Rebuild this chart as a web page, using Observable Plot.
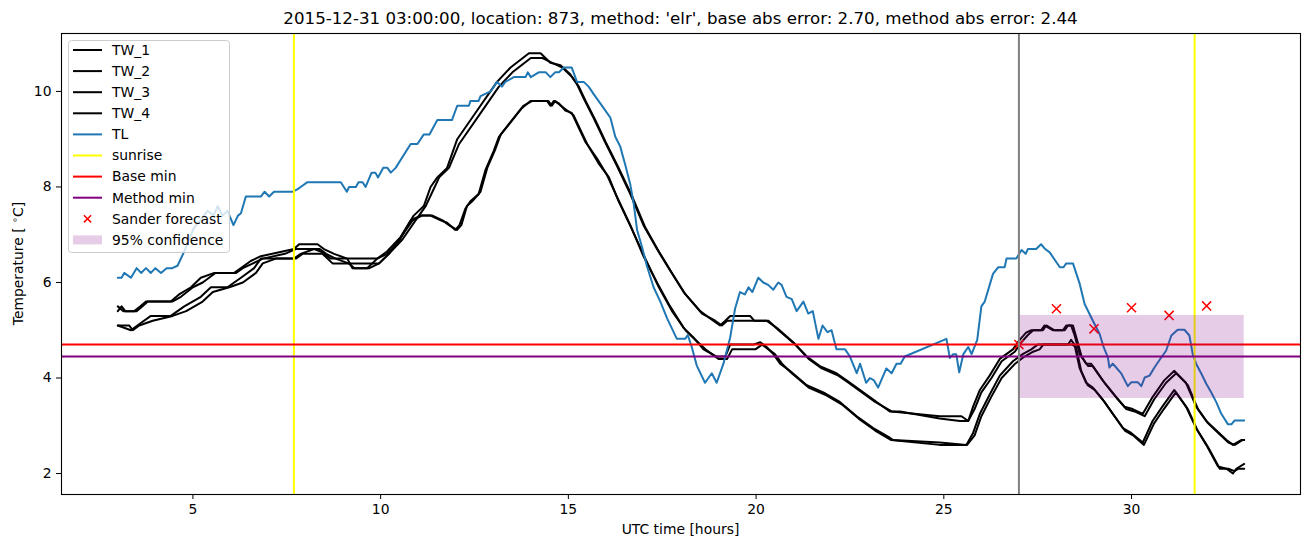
<!DOCTYPE html>
<html><head><meta charset="utf-8">
<script src="https://cdn.jsdelivr.net/npm/d3@7"></script>
<script src="https://cdn.jsdelivr.net/npm/@observablehq/plot@0.6"></script>
<style>
body{margin:0;background:#fff;font-family:"DejaVu Sans",sans-serif;}
#title{height:26px;width:1310px;position:relative;}
#title span{position:absolute;left:680.5px;top:18px;transform:translate(-50%,-50%);font-size:16.67px;white-space:nowrap;color:#000;}
#chart svg{display:block;}
</style></head><body>
<div id="title"><span>2015-12-31 03:00:00, location: 873, method: 'elr', base abs error: 2.70, method abs error: 2.44</span></div>
<div id="chart"></div>
<script>
// ---- data (hours since 2015-12-30 00:00 UTC, temperature °C) ----
const tl = [[3.00,6.1],[3.10,6.1],[3.17,6.2],[3.35,6.1],[3.50,6.3],[3.62,6.2],[3.75,6.3],[3.88,6.2],[4.00,6.3],[4.15,6.2],[4.30,6.3],[4.45,6.3],[4.59,6.35],[4.77,6.65],[5.03,7.15],[5.20,7.3],[5.39,7.5],[5.55,7.4],[5.66,7.6],[5.79,7.4],[5.92,7.5],[6.08,7.2],[6.20,7.4],[6.28,7.45],[6.41,7.8],[6.81,7.8],[6.91,7.9],[7.03,7.8],[7.16,7.9],[7.66,7.9],[7.78,7.95],[7.87,8.0],[8.05,8.1],[8.94,8.1],[9.10,7.9],[9.16,8.0],[9.34,8.0],[9.41,8.1],[9.52,8.1],[9.60,8.0],[9.76,8.3],[9.86,8.3],[9.93,8.2],[10.07,8.4],[10.18,8.4],[10.27,8.3],[10.40,8.4],[10.80,8.9],[10.98,8.9],[11.15,9.1],[11.30,9.1],[11.51,9.4],[11.90,9.4],[12.04,9.7],[12.35,9.7],[12.39,9.8],[12.61,9.8],[12.66,9.9],[12.93,10.0],[13.10,10.2],[13.23,10.1],[13.32,10.2],[13.55,10.3],[13.86,10.3],[13.92,10.4],[14.00,10.3],[14.21,10.4],[14.40,10.4],[14.52,10.3],[14.65,10.4],[14.75,10.4],[14.88,10.5],[15.09,10.5],[15.23,10.2],[15.41,10.2],[15.54,10.1],[15.67,9.95],[15.76,9.85],[15.94,9.65],[16.12,9.45],[16.25,9.05],[16.38,8.85],[16.52,8.45],[16.65,8.05],[16.74,7.65],[16.83,7.1],[16.96,6.75],[17.09,6.35],[17.27,5.9],[17.45,5.6],[17.63,5.25],[17.89,4.82],[18.11,4.82],[18.18,4.9],[18.29,4.64],[18.42,4.26],[18.64,3.9],[18.82,4.1],[18.95,3.9],[19.13,4.3],[19.31,4.85],[19.44,5.45],[19.57,5.8],[19.70,5.75],[19.80,5.9],[19.90,5.8],[20.06,6.1],[20.19,6.0],[20.32,5.95],[20.46,5.85],[20.59,6.0],[20.68,5.95],[20.81,5.7],[20.95,5.65],[21.08,5.4],[21.26,5.6],[21.39,5.35],[21.51,5.4],[21.66,4.82],[21.77,5.1],[21.90,4.96],[22.01,5.0],[22.14,4.6],[22.37,4.6],[22.50,4.45],[22.68,4.1],[22.77,4.3],[22.93,3.9],[23.03,4.0],[23.14,3.95],[23.25,3.8],[23.47,4.2],[23.61,4.1],[23.74,4.3],[23.85,4.3],[23.96,4.45],[25.07,4.82],[25.16,4.42],[25.25,4.5],[25.33,4.5],[25.41,4.12],[25.52,4.5],[25.65,4.65],[25.74,4.5],[25.89,4.8],[26.00,5.5],[26.09,5.6],[26.31,6.18],[26.45,6.32],[26.62,6.32],[26.67,6.5],[26.93,6.5],[27.07,6.68],[27.18,6.6],[27.24,6.7],[27.46,6.7],[27.59,6.8],[27.70,6.7],[27.82,6.63],[28.09,6.32],[28.19,6.32],[28.26,6.4],[28.44,6.4],[28.62,5.97],[28.75,5.55],[28.97,5.2],[29.15,4.92],[29.26,4.64],[29.37,4.43],[29.41,4.22],[29.50,4.3],[29.59,4.22],[29.73,4.09],[29.90,3.83],[29.99,3.91],[30.17,3.91],[30.26,3.83],[30.35,4.01],[30.48,4.05],[30.61,4.22],[30.79,4.43],[30.92,4.57],[31.06,4.89],[31.23,5.01],[31.41,5.01],[31.54,4.89],[31.63,4.5],[31.72,4.3],[31.86,4.09],[31.99,3.88],[32.12,3.7],[32.26,3.49],[32.39,3.25],[32.57,3.03],[32.66,3.03],[32.74,3.11],[33.00,3.11]];

const tw1 = [[3.0,5.5],[3.15,5.4],[3.44,5.4],[3.6,5.5],[3.75,5.6],[4.41,5.6],[4.63,5.75],[4.95,5.9],[5.21,6.1],[5.57,6.2],[6.10,6.2],[6.28,6.3],[6.54,6.45],[6.81,6.55],[7.39,6.65],[7.69,6.7],[7.83,6.8],[8.32,6.8],[8.49,6.7],[8.76,6.6],[9.11,6.5],[9.25,6.3],[9.64,6.3],[9.91,6.5],[10.17,6.6],[10.44,6.8],[10.80,7.3],[11.06,7.4],[11.33,7.4],[11.60,7.3],[11.77,7.25],[11.99,7.1],[12.10,7.2],[12.26,7.55],[12.39,7.7],[12.61,7.85],[12.79,8.35],[13.01,8.75],[13.15,9.05],[13.46,9.35],[13.76,9.65],[13.99,9.8],[14.43,9.8],[14.52,9.7],[14.61,9.8],[14.75,9.75],[14.92,9.6],[15.09,9.55],[15.27,9.25],[15.45,8.95],[15.76,8.6],[16.03,8.25],[16.29,7.8],[16.65,7.2],[17.00,6.55],[17.36,6.0],[17.71,5.5],[18.07,5.05],[18.33,4.85],[18.60,4.6],[18.95,4.45],[19.18,4.45],[19.31,4.7],[19.93,4.7],[20.11,4.75],[20.28,4.65],[20.46,4.5],[20.64,4.3],[20.90,4.15],[21.35,3.85],[21.79,3.7],[22.23,3.5],[22.68,3.2],[23.12,2.95],[23.56,2.75],[23.65,2.7],[24.89,2.65],[25.60,2.6],[25.78,2.85],[25.96,3.25],[26.22,3.65],[26.49,4.05],[26.84,4.35],[27.10,4.5],[27.33,4.6],[27.50,4.7],[28.31,4.7],[28.39,4.8],[28.48,4.7],[28.62,4.2],[28.79,3.9],[28.97,3.8],[29.23,3.55],[29.50,3.25],[29.77,2.95],[29.99,2.85],[30.30,2.65],[30.56,3.1],[30.82,3.4],[31.14,3.75],[31.45,3.4],[31.72,2.95],[31.99,2.6],[32.30,2.15],[32.53,2.1],[32.70,2.0],[32.79,2.1],[33.0,2.2]];

const tw2 = [[3.0,5.4],[3.1,5.5],[3.2,5.4],[3.5,5.4],[3.65,5.5],[3.8,5.6],[4.45,5.6],[4.68,5.7],[5.0,5.9],[5.26,6.0],[5.6,6.2],[6.15,6.2],[6.33,6.3],[6.6,6.4],[6.86,6.5],[7.45,6.6],[7.74,6.7],[7.9,6.7],[8.38,6.7],[8.55,6.6],[8.8,6.5],[9.15,6.4],[9.3,6.3],[9.7,6.3],[9.96,6.4],[10.22,6.6],[10.5,6.9],[10.85,7.3],[11.1,7.4],[11.38,7.4],[11.65,7.3],[11.82,7.2],[12.03,7.1],[12.15,7.2],[12.3,7.6],[12.44,7.7],[12.66,7.9],[12.84,8.4],[13.06,8.8],[13.2,9.1],[13.5,9.4],[13.8,9.7],[14.04,9.8],[14.47,9.8],[14.56,9.7],[14.65,9.8],[14.8,9.7],[14.97,9.6],[15.14,9.5],[15.32,9.2],[15.5,8.9],[15.8,8.5],[16.08,8.2],[16.34,7.7],[16.7,7.1],[17.05,6.5],[17.41,5.9],[17.76,5.4],[18.12,5.0],[18.38,4.8],[18.65,4.6],[19.0,4.4],[19.23,4.4],[19.36,4.6],[19.98,4.6],[20.16,4.7],[20.33,4.6],[20.5,4.5],[20.69,4.3],[20.95,4.1],[21.4,3.8],[21.84,3.65],[22.28,3.45],[22.73,3.15],[23.17,2.9],[23.6,2.7],[24.89,2.6],[25.62,2.6],[25.82,2.8],[26.0,3.2],[26.26,3.6],[26.54,4.0],[26.9,4.3],[27.15,4.45],[27.38,4.55],[27.55,4.6],[27.65,4.7],[28.34,4.7],[28.42,4.7],[28.52,4.65],[28.66,4.15],[28.83,3.85],[29.02,3.75],[29.28,3.5],[29.55,3.2],[29.82,2.9],[30.04,2.8],[30.33,2.6],[30.6,3.05],[30.86,3.35],[31.18,3.7],[31.5,3.35],[31.76,2.9],[32.04,2.55],[32.35,2.1],[32.58,2.1],[32.74,2.05],[32.85,2.1],[33.0,2.1]];

const tw3 = [[3.0,5.1],[3.35,5.0],[3.52,5.1],[3.88,5.3],[4.41,5.3],[4.77,5.5],[5.21,5.7],[5.48,5.9],[5.92,5.9],[6.28,6.1],[6.63,6.3],[6.81,6.5],[7.16,6.5],[7.69,6.5],[7.87,6.6],[8.23,6.7],[8.40,6.65],[8.67,6.5],[8.94,6.5],[9.91,6.5],[10.17,6.65],[10.53,6.95],[10.88,7.4],[11.15,7.6],[11.33,8.0],[11.51,8.2],[11.77,8.4],[12.04,9.0],[12.57,9.6],[13.10,10.2],[13.46,10.5],[13.95,10.8],[14.26,10.8],[14.52,10.6],[14.79,10.55],[15.05,10.36],[15.23,10.15],[15.41,9.85],[15.67,9.45],[15.94,9.0],[16.29,8.45],[16.65,7.85],[17.00,7.2],[17.36,6.7],[17.71,6.25],[18.07,5.8],[18.51,5.4],[18.86,5.2],[19.04,5.1],[19.18,5.2],[19.31,5.3],[19.84,5.3],[19.95,5.2],[20.28,5.2],[20.55,5.05],[20.99,4.75],[21.35,4.45],[21.70,4.25],[22.14,4.1],[22.41,3.95],[22.77,3.75],[23.12,3.55],[23.56,3.3],[23.83,3.3],[24.89,3.15],[25.43,3.1],[25.65,3.1],[25.78,3.4],[25.96,3.75],[26.22,4.05],[26.49,4.4],[26.84,4.6],[27.02,4.8],[27.19,4.95],[27.33,5.0],[27.59,5.0],[27.68,5.1],[27.90,5.0],[28.17,5.0],[28.26,5.1],[28.39,5.1],[28.48,4.9],[28.62,4.5],[28.79,4.3],[28.92,4.3],[29.23,3.95],[29.59,3.6],[29.81,3.4],[30.03,3.35],[30.30,3.25],[30.56,3.6],[30.87,3.95],[31.14,4.15],[31.45,3.9],[31.72,3.4],[31.99,3.1],[32.26,2.9],[32.53,2.7],[32.70,2.6],[32.92,2.7],[33.0,2.7]];

const tw4 = [[3.0,5.1],[3.3,5.1],[3.4,5.0],[3.57,5.1],[3.93,5.2],[4.46,5.3],[4.82,5.4],[5.26,5.6],[5.53,5.8],[5.97,5.9],[6.33,6.0],[6.68,6.2],[6.86,6.4],[7.21,6.5],[7.74,6.5],[7.92,6.6],[8.28,6.6],[8.45,6.6],[8.72,6.4],[8.99,6.4],[9.96,6.4],[10.22,6.6],[10.58,6.9],[10.93,7.3],[11.2,7.6],[11.38,7.9],[11.56,8.2],[11.82,8.4],[12.09,8.9],[12.62,9.5],[13.15,10.1],[13.51,10.4],[14.0,10.7],[14.31,10.7],[14.57,10.6],[14.84,10.5],[15.1,10.3],[15.28,10.1],[15.46,9.8],[15.72,9.4],[15.99,8.95],[16.34,8.4],[16.7,7.8],[17.05,7.15],[17.41,6.65],[17.76,6.2],[18.12,5.75],[18.56,5.35],[18.91,5.2],[19.09,5.1],[19.23,5.2],[19.36,5.2],[19.89,5.2],[20.33,5.2],[20.6,5.0],[21.04,4.7],[21.4,4.4],[21.75,4.2],[22.19,4.05],[22.46,3.9],[22.82,3.7],[23.17,3.5],[23.61,3.3],[24.89,3.2],[25.47,3.2],[25.65,3.1],[25.82,3.35],[26.0,3.7],[26.27,4.0],[26.54,4.35],[26.89,4.55],[27.07,4.75],[27.24,4.9],[27.38,5.0],[27.64,5.0],[27.73,5.1],[27.95,5.0],[28.22,5.0],[28.31,5.1],[28.44,5.1],[28.53,4.85],[28.67,4.45],[28.84,4.25],[28.97,4.25],[29.28,3.9],[29.64,3.55],[29.86,3.35],[30.08,3.3],[30.35,3.2],[30.6,3.55],[30.92,3.9],[31.19,4.1],[31.5,3.85],[31.77,3.35],[32.04,3.05],[32.31,2.85],[32.58,2.65],[32.75,2.6],[32.95,2.7],[33.0,2.7]];

const sunriseHours = [7.69, 31.68];
const forecastHour = [27];
const baseMin = [4.70];
const methodMin = [4.45];
const sanderHours = [27, 28, 29, 30, 31, 32];
const sanderTemp = [4.70, 5.45, 5.03, 5.47, 5.31, 5.51];
const confStart = [27], confEnd = [33], confLow = [3.57], confHigh = [5.31];
const xTicks = [5, 10, 15, 20, 25, 30];
const yTicks = [2, 4, 6, 8, 10];
const legendLabels = ["TW_1","TW_2","TW_3","TW_4","TL","sunrise","Base min","Method min","Sander forecast","95% confidence"];

// ---- derived tables ----
const sander = sanderHours.map((h, i) => ({h, t: sanderTemp[i]}));
const band = confStart.map((s, i) => ({s, e: confEnd[i], lo: confLow[i], hi: confHigh[i]}));
const X = d => d[0], Y = d => d[1];
const LW = 2;

const chart = Plot.plot({
  width: 1310, height: 521,
  marginLeft: 61, marginRight: 10, marginTop: 7, marginBottom: 53,
  x: {domain: [1.5, 34.5]},
  y: {domain: [1.561, 11.213]},
  style: {fontFamily: "DejaVu Sans", fontSize: "13.9px", color: "black", background: "white", overflow: "visible"},
  marks: [
    Plot.line(tw1, {x: X, y: Y, stroke: "black", strokeWidth: LW}),
    Plot.line(tw2, {x: X, y: Y, stroke: "black", strokeWidth: LW}),
    Plot.line(tw3, {x: X, y: Y, stroke: "black", strokeWidth: LW}),
    Plot.line(tw4, {x: X, y: Y, stroke: "black", strokeWidth: LW}),
    Plot.line(tl, {x: X, y: Y, stroke: "#1f77b4", strokeWidth: LW}),
    Plot.ruleX(sunriseHours, {stroke: "yellow", strokeWidth: LW}),
    Plot.ruleY(baseMin, {stroke: "red", strokeWidth: LW}),
    Plot.ruleY(methodMin, {stroke: "purple", strokeWidth: LW}),
    Plot.dot(sander, {x: "h", y: "t", symbol: "times", stroke: "red", r: 4.2, strokeWidth: 1.5}),
    Plot.rect(band, {x1: "s", x2: "e", y1: "lo", y2: "hi", fill: "purple", fillOpacity: 0.2}),
    Plot.ruleX(forecastHour, {stroke: "gray", strokeWidth: LW}),
    Plot.frame({stroke: "black", strokeWidth: 1.1}),
    Plot.axisX({ticks: xTicks, tickFormat: d => String(d), tickSize: 5, tickPadding: 5, label: null}),
    Plot.axisY({ticks: yTicks, tickFormat: d => String(d), tickSize: 5, tickPadding: 5, label: null})
  ]
});
document.getElementById("chart").appendChild(chart);

// ---- axis labels and legend ----
const svg = d3.select(chart);
svg.append("text").attr("x", 680.5).attr("y", 503).attr("text-anchor", "middle")
  .attr("dy", "0.35em").attr("font-size", 13.9).attr("fill", "black").text("UTC time [hours]");
const yl = svg.append("text").attr("transform", "translate(18,237.5) rotate(-90)")
  .attr("text-anchor", "middle").attr("dy", "0.35em").attr("font-size", 13.9).attr("fill", "black");
yl.append("tspan").text("Temperature [ ");
yl.append("tspan").attr("font-size", 9.7).attr("dy", -5).text("\u2218");
yl.append("tspan").attr("dy", 5).text("C]");

const lg = svg.append("g").attr("text-anchor", "start");
lg.append("rect").attr("x", 68.5).attr("y", 14.5).attr("width", 161).attr("height", 212)
  .attr("rx", 3).attr("fill", "white").attr("fill-opacity", 0.8).attr("stroke", "#cccccc");
const lineColors = ["black","black","black","black","#1f77b4","yellow","red","purple"];
legendLabels.forEach((lab, i) => {
  const y = 24 + i * 21.1;
  if (i < 8) {
    lg.append("line").attr("x1", 73).attr("x2", 102).attr("y1", y).attr("y2", y)
      .attr("stroke", lineColors[i]).attr("stroke-width", LW);
  } else if (i === 8) {
    const c = 87.5, s = 3.6;
    lg.append("path").attr("d", `M${c-s},${y-s}L${c+s},${y+s}M${c-s},${y+s}L${c+s},${y-s}`)
      .attr("stroke", "red").attr("stroke-width", 1.5);
  } else {
    lg.append("rect").attr("x", 73).attr("y", y - 4.5).attr("width", 29).attr("height", 9)
      .attr("fill", "purple").attr("fill-opacity", 0.2);
  }
  lg.append("text").attr("x", 112).attr("y", y).attr("dy", "0.35em").attr("text-anchor", "start")
    .attr("font-size", 13.9).attr("fill", "black").text(lab);
});
</script>
</body></html>
